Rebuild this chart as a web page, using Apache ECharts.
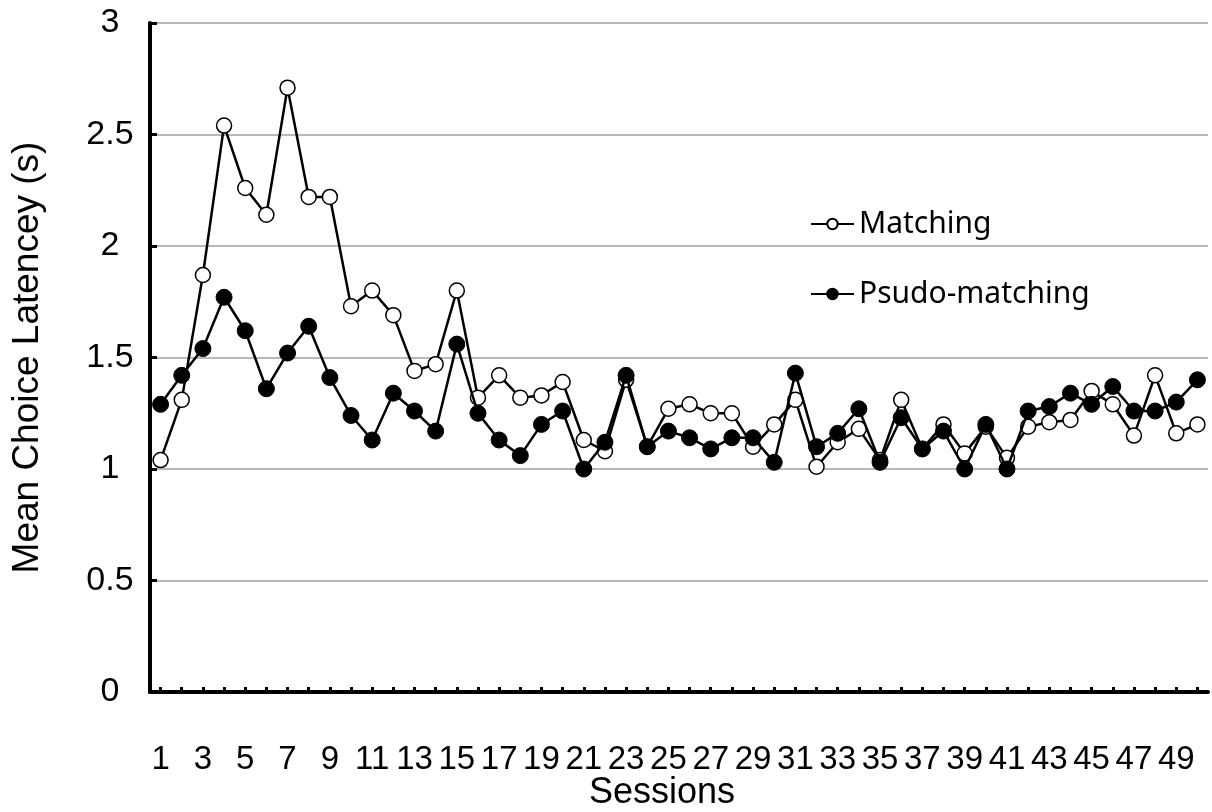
<!DOCTYPE html>
<html>
<head>
<meta charset="utf-8">
<script src="https://cdn.jsdelivr.net/npm/echarts@6/dist/echarts.min.js"></script>
<style>
html,body{margin:0;padding:0;background:#fff;}
#chart{width:1212px;height:812px;}
</style>
</head>
<body>
<div id="chart"></div>
<script>
var sessions = ['1','2','3','4','5','6','7','8','9','10','11','12','13','14','15','16','17','18','19','20','21','22','23','24','25','26','27','28','29','30','31','32','33','34','35','36','37','38','39','40','41','42','43','44','45','46','47','48','49','50'];
var matching = [1.04,1.31,1.87,2.54,2.26,2.14,2.71,2.22,2.22,1.73,
                1.80,1.69,1.44,1.47,1.80,1.32,1.42,1.32,1.33,1.39,
                1.13,1.08,1.40,1.10,1.27,1.29,1.25,1.25,1.10,1.20,
                1.31,1.01,1.12,1.18,1.04,1.31,1.09,1.20,1.07,1.19,
                1.05,1.19,1.21,1.22,1.35,1.29,1.15,1.42,1.16,1.20];
var psudoMatching = [1.29,1.42,1.54,1.77,1.62,1.36,1.52,1.64,1.41,1.24,
                     1.13,1.34,1.26,1.17,1.56,1.25,1.13,1.06,1.20,1.26,
                     1.00,1.12,1.42,1.10,1.17,1.14,1.09,1.14,1.14,1.03,
                     1.43,1.10,1.16,1.27,1.03,1.23,1.09,1.17,1.00,1.20,
                     1.00,1.26,1.28,1.34,1.29,1.37,1.26,1.26,1.30,1.40];

var chart = echarts.init(document.getElementById('chart'), null, {renderer:'canvas'});
chart.setOption({
  animation:false,
  backgroundColor:'#fff',
  grid:{left:150, right:4, top:23, bottom:120, containLabel:false, outerBoundsMode:'none'},
  legend:{
    orient:'vertical', left:805, top:204, itemGap:40,
    itemWidth:43, itemHeight:13,
    textStyle:{fontFamily:'Noto Sans', fontSize:30, color:'#000'},
    data:['Matching','Psudo-matching']
  },
  xAxis:{
    type:'category', data:sessions, boundaryGap:true,
    name:'Sessions', nameLocation:'middle', nameGap:83, nameMoveOverlap:false,
    nameTextStyle:{fontFamily:'Liberation Sans', fontSize:36, color:'#000', padding:[0,34,0,0]},
    axisLine:{show:true, lineStyle:{color:'#000', width:4}},
    axisTick:{show:true, inside:true, alignWithLabel:true, interval:0, length:5, lineStyle:{color:'#000', width:3}},
    axisLabel:{interval:1, margin:51, fontFamily:'Liberation Sans', fontSize:33, color:'#000'},
    splitLine:{show:false}
  },
  yAxis:{
    type:'value', min:0, max:3, interval:0.5,
    name:'Mean Choice Latencey (s)', nameLocation:'middle', nameGap:104, nameMoveOverlap:false,
    nameTextStyle:{fontFamily:'Liberation Sans', fontSize:37, color:'#000'},
    axisLine:{show:true, lineStyle:{color:'#000', width:4}},
    axisTick:{show:true, inside:true, length:7, lineStyle:{color:'#000', width:3}},
    axisLabel:{margin:40, align:'center', fontFamily:'Liberation Sans', fontSize:34, color:'#000'},
    splitLine:{show:true, lineStyle:{color:'#a0a0a0', width:1.5}}
  },
  series:[
    {
      name:'Matching', type:'line', data:matching,
      symbol:'circle', symbolSize:15, showAllSymbol:true,
      lineStyle:{color:'#000', width:2.5},
      itemStyle:{color:'#fff', borderColor:'#000', borderWidth:1.5},
      z:2
    },
    {
      name:'Psudo-matching', type:'line', data:psudoMatching,
      symbol:'circle', symbolSize:16, showAllSymbol:true,
      lineStyle:{color:'#000', width:2.5},
      itemStyle:{color:'#000', borderColor:'#000', borderWidth:1},
      z:3
    }
  ]
});
</script>
</body>
</html>
